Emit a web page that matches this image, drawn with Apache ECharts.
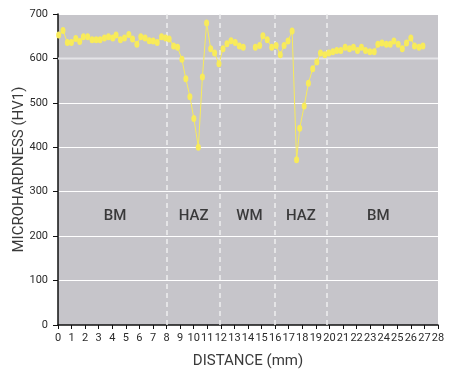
<!DOCTYPE html>
<html>
<head>
<meta charset="utf-8">
<script src="https://cdn.jsdelivr.net/npm/echarts@6/dist/echarts.min.js"></script>
<style>
  html, body { margin: 0; padding: 0; background: #fff; }
  #chart { width: 463px; height: 374px; }
</style>
</head>
<body>
<div id="chart"></div>
<script>
// Hardness traverse across the weld (distance in mm, hardness in HV1)
const distance = [0.05, 0.37, 0.69, 0.99, 1.31, 1.6, 1.87, 2.19, 2.51, 2.81, 3.1, 3.42, 3.72, 4.04, 4.28, 4.6, 4.9, 5.22, 5.49, 5.81, 6.1, 6.42, 6.72, 7.01, 7.31, 7.63, 7.93, 8.19, 8.52, 8.81, 9.13, 9.42, 9.72, 10.01, 10.34, 10.64, 10.95, 11.25, 11.54, 11.86, 12.16, 12.45, 12.75, 13.06, 13.36, 13.65, 14.1, 14.54, 14.86, 15.1, 15.42, 15.75, 16.07, 16.38, 16.66, 16.95, 17.25, 17.58, 17.81, 18.14, 18.45, 18.77, 19.07, 19.34, 19.66, 19.95, 20.25, 20.54, 20.84, 21.16, 21.48, 21.77, 22.07, 22.36, 22.66, 22.98, 23.3, 23.57, 23.87, 24.19, 24.48, 24.75, 25.07, 25.37, 25.68, 26.0, 26.27, 26.6, 26.89];
const hardness = [653, 663, 636, 636, 645, 638, 649, 649, 642, 642, 642, 646, 649, 646, 653, 642, 646, 654, 644, 632, 649, 646, 640, 639, 636, 649, 646, 644, 628, 625, 598, 554, 514, 465, 400, 558, 680, 622, 612, 588, 622, 633, 640, 636, 628, 625, null, 625, 629, 651, 642, 625, 629, 608, 629, 639, 662, 372, 443, 493, 544, 577, 592, 612, 608, 612, 615, 618, 618, 625, 622, 625, 618, 625, 618, 615, 615, 632, 635, 632, 632, 639, 632, 622, 635, 646, 628, 625, 628];

// Zone boundaries and zone names
const zoneBoundaries = [8, 11.9, 16, 19.8];
const zoneNames = ['BM', 'HAZ', 'WM', 'HAZ', 'BM'];
const zoneCenters = [4.2, 10.0, 14.1, 17.9, 23.6];
const zoneLabelLevel = 245;

const xTicks = { min: 0, max: 28, step: 1 };
const yTicks = { min: 0, max: 700, step: 100 };

const points = distance.map((d, i) => [d, hardness[i] === null ? '-' : hardness[i]]);
const zoneLabelData = zoneNames.map((n, i) => ({ name: n, value: [zoneCenters[i], zoneLabelLevel] }));

const fontFamily = 'Roboto, "DejaVu Sans", sans-serif';
const chart = echarts.init(document.getElementById('chart'), null, { renderer: 'canvas' });

chart.setOption({
  animation: false,
  backgroundColor: '#ffffff',
  grid: { left: 58, right: 25, top: 14, bottom: 49, show: true, backgroundColor: '#c6c5ca', borderWidth: 0 },
  xAxis: {
    type: 'value',
    min: xTicks.min, max: xTicks.max, interval: xTicks.step,
    name: 'DISTANCE (mm)',
    nameLocation: 'middle',
    nameGap: 29,
    nameMoveOverlap: false,
    nameTextStyle: { fontFamily, fontSize: 15, color: '#3a3a3a' },
    axisLine: { show: true, lineStyle: { color: '#111', width: 1.5 } },
    axisTick: { show: true, length: 4, lineStyle: { color: '#111' } },
    axisLabel: { fontFamily, fontSize: 11, color: '#2a2a2a', margin: 8 },
    splitLine: { show: false }
  },
  yAxis: {
    type: 'value',
    min: yTicks.min, max: yTicks.max, interval: yTicks.step,
    name: 'MICROHARDNESS (HV1)',
    nameLocation: 'middle',
    nameGap: 31,
    nameMoveOverlap: false,
    nameTextStyle: { fontFamily, fontSize: 15, color: '#3a3a3a' },
    axisLine: { show: true, lineStyle: { color: '#111', width: 1.5 } },
    axisTick: { show: true, length: 5, lineStyle: { color: '#111' } },
    axisLabel: { fontFamily, fontSize: 11, color: '#2a2a2a', margin: 10 },
    splitLine: { show: true, lineStyle: { color: '#ffffff', width: 1 } }
  },
  series: [
    {
      type: 'line',
      data: points,
      connectNulls: false,
      symbol: 'circle',
      symbolSize: [5, 7],
      itemStyle: { color: '#f8eb5a' },
      lineStyle: { color: '#f8eb5a', width: 1 },
      z: 5,
      markLine: {
        silent: true,
        symbol: 'none',
        label: { show: false },
        lineStyle: { color: '#eeeeef', type: [5, 4], width: 1.5 },
        data: zoneBoundaries.map(v => ({ xAxis: v }))
      }
    },
    {
      type: 'line',
      data: [[xTicks.min, 600], [xTicks.max, 600]],
      symbol: 'none',
      silent: true,
      lineStyle: { color: '#e4e4e7', width: 2 },
      z: 1
    },
    {
      type: 'scatter',
      data: zoneLabelData,
      symbolSize: 0,
      silent: true,
      label: {
        show: true,
        position: 'inside',
        formatter: p => p.name,
        fontFamily,
        fontSize: 15,
        fontWeight: 500,
        color: '#151515'
      },
      z: 3
    }
  ]
});
</script>
</body>
</html>
